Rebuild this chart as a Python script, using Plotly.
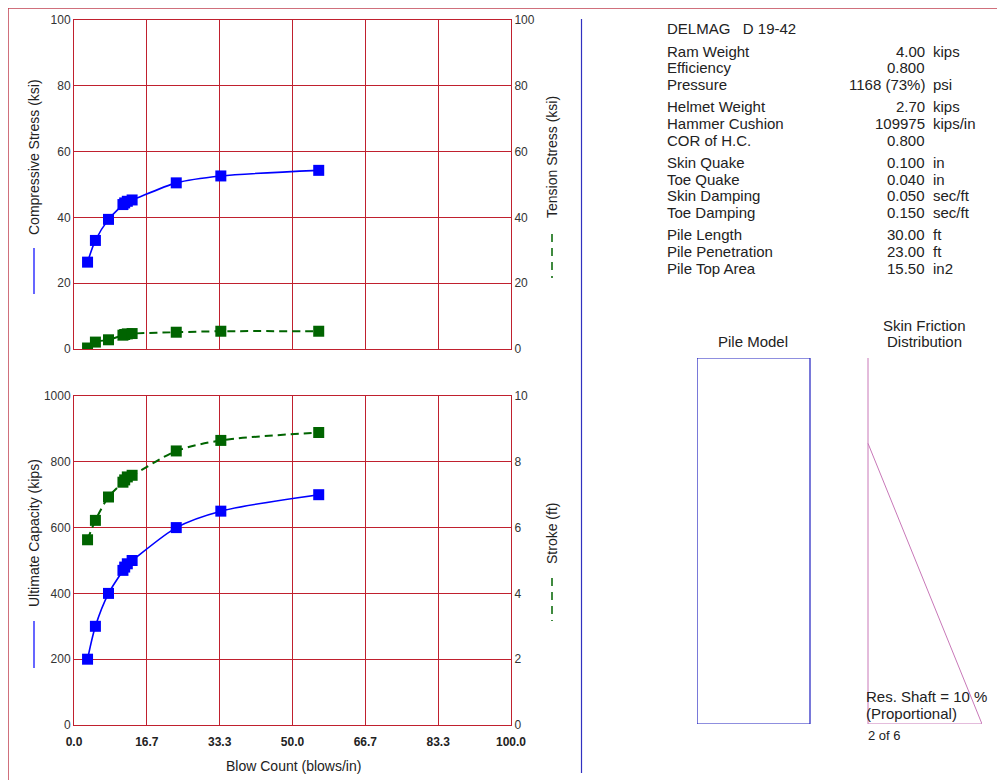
import plotly.graph_objects as go

# ---------------- data ----------------
blow_count = [3.1, 4.9, 7.9, 11.2, 11.6, 12.2, 13.3, 23.4, 33.6, 56.0]
capacity = [200, 300, 400, 470, 480, 490, 500, 600, 650, 700]
stroke = [5.63, 6.22, 6.93, 7.38, 7.45, 7.54, 7.59, 8.33, 8.65, 8.89]
comp_stress = [26.4, 33.0, 39.4, 43.9, 44.4, 44.9, 45.3, 50.5, 52.6, 54.3]
tension_stress = [0.3, 2.1, 2.8, 4.2, 4.4, 4.6, 4.7, 5.1, 5.4, 5.4]

x_tickvals = [0, 16.667, 33.333, 50, 66.667, 83.333, 100]
x_ticktext = ["0.0", "16.7", "33.3", "50.0", "66.7", "83.3", "100.0"]

hammer_name = "DELMAG   D 19-42"
param_groups = [
    [("Ram Weight", "4.00", "kips"), ("Efficiency", "0.800", ""), ("Pressure", "1168 (73%)", "psi")],
    [("Helmet Weight", "2.70", "kips"), ("Hammer Cushion", "109975", "kips/in"), ("COR of H.C.", "0.800", "")],
    [("Skin Quake", "0.100", "in"), ("Toe Quake", "0.040", "in"), ("Skin Damping", "0.050", "sec/ft"),
     ("Toe Damping", "0.150", "sec/ft")],
    [("Pile Length", "30.00", "ft"), ("Pile Penetration", "23.00", "ft"), ("Pile Top Area", "15.50", "in2")],
]
pile_length = 30.0
pile_penetration = 23.0
res_shaft_pct = 10

# ---------------- layout helpers ----------------
W, H = 1005, 780
OFF = 7  # page offset of the figure in the browser
def px(x):
    return (x - OFF) / W
def py(y):
    return 1 - (y - OFF) / H

FONT = "Arial, 'Liberation Sans', sans-serif"
GRID = "#C0202E"
TXT = "#222222"
BLUE = "#0000FF"
GREEN = "#006400"
DASH = "8px,5px"

fig = go.Figure()

# top plot: stresses
fig.add_trace(go.Scatter(x=blow_count, y=comp_stress, mode="lines+markers", xaxis="x", yaxis="y",
                         line=dict(color=BLUE, width=1.6, shape="spline", smoothing=0.8),
                         marker=dict(symbol="square", size=11, color=BLUE), showlegend=False))
fig.add_trace(go.Scatter(x=blow_count, y=tension_stress, mode="lines+markers", xaxis="x", yaxis="y2",
                         line=dict(color=GREEN, width=2, dash=DASH, shape="spline", smoothing=0.8),
                         marker=dict(symbol="square", size=11, color=GREEN), showlegend=False))
# bottom plot: capacity & stroke
fig.add_trace(go.Scatter(x=blow_count, y=capacity, mode="lines+markers", xaxis="x2", yaxis="y3",
                         line=dict(color=BLUE, width=1.6, shape="spline", smoothing=0.8),
                         marker=dict(symbol="square", size=11, color=BLUE), showlegend=False))
fig.add_trace(go.Scatter(x=blow_count, y=stroke, mode="lines+markers", xaxis="x2", yaxis="y4",
                         line=dict(color=GREEN, width=2, dash=DASH, shape="spline", smoothing=0.8),
                         marker=dict(symbol="square", size=11, color=GREEN), showlegend=False))

xdom = [px(73), px(510)]
top_dom = [py(348), py(19)]
bot_dom = [py(724), py(395)]

axis_common = dict(showgrid=True, gridcolor=GRID, gridwidth=1, showline=True, linecolor=GRID,
                   linewidth=1, mirror=True, zeroline=False, ticks="", fixedrange=True, automargin=False,
                   tickfont=dict(family=FONT, size=12, color="#333333"))
no_grid = {k: v for k, v in axis_common.items() if k != "showgrid"}
no_font = {k: v for k, v in axis_common.items() if k != "tickfont"}

fig.update_layout(
    width=W, height=H, margin=dict(l=0, r=0, t=0, b=0, autoexpand=False),
    paper_bgcolor="white", plot_bgcolor="white", showlegend=False,
    font=dict(family=FONT, color=TXT),
    xaxis=dict(domain=xdom, anchor="y", range=[0, 100], tickvals=x_tickvals, showticklabels=False,
               **axis_common),
    yaxis=dict(domain=top_dom, anchor="x", range=[0, 100], dtick=20, ticklabelstandoff=0, **axis_common),
    yaxis2=dict(overlaying="y", side="right", anchor="x", range=[0, 100], dtick=20, showgrid=False,
                ticklabelstandoff=0, **no_grid),
    xaxis2=dict(domain=xdom, anchor="y3", range=[0, 100], tickvals=x_tickvals, ticktext=x_ticktext,
                ticklabelstandoff=6, **no_font,
                tickfont=dict(family=FONT, size=12, color="#222222", weight="bold")),
    yaxis3=dict(domain=bot_dom, anchor="x2", range=[0, 1000], dtick=200, ticklabelstandoff=0, **axis_common),
    yaxis4=dict(overlaying="y3", side="right", anchor="x2", range=[0, 10], dtick=2, showgrid=False,
                ticklabelstandoff=0, **no_grid),
    xaxis3=dict(domain=[px(696), px(981)], anchor="y5", range=[0, 1], visible=False, fixedrange=True,
                automargin=False),
    yaxis5=dict(domain=[py(723), py(357)], anchor="x3", range=[pile_length, 0], visible=False,
                fixedrange=True, automargin=False),
)

ann = []
def text(x, y, t, xanchor="left", size=15, angle=0, yanchor="middle"):
    # compensate the small inner padding plotly adds around annotation text
    if angle == 0:
        if xanchor == "left":
            x -= 3
        elif xanchor == "right":
            x += 2
    ann.append(dict(xref="paper", yref="paper", x=px(x), y=py(y), text=t, showarrow=False,
                    xanchor=xanchor, yanchor=yanchor, textangle=angle,
                    font=dict(family=FONT, size=size, color=TXT)))

shapes = []
def line(x0, y0, x1, y1, color, width=1, dash="solid"):
    shapes.append(dict(type="line", xref="paper", yref="paper", x0=px(x0), y0=py(y0), x1=px(x1),
                       y1=py(y1), line=dict(color=color, width=width, dash=dash)))

# axis titles with line keys
text(33, 156, "Compressive Stress (ksi)", xanchor="center", angle=-90, size=14)
line(33, 247, 33, 293, BLUE, 1.2)
text(551, 156, "Tension Stress (ksi)", xanchor="center", angle=-90, size=14)
line(551, 233, 551, 277, GREEN, 1.5, "8px,6px")
text(33, 532, "Ultimate Capacity (kips)", xanchor="center", angle=-90, size=14)
line(33, 620, 33, 667, BLUE, 1.2)
text(551, 533, "Stroke (ft)", xanchor="center", angle=-90, size=14)
line(551, 577, 551, 620, GREEN, 1.5, "8px,6px")
text(292, 765, "Blow Count (blows/in)", xanchor="center", size=14)

# frame and separator
line(7, 7, 1020, 7, "#C04050", 1.5)
line(7, 7, 7, 800, "#C04050", 1.5)
line(580.5, 18, 580.5, 772, "#3030C0", 1.2)

# parameter panel
text(667, 27, hammer_name)
y = 50
for g in param_groups:
    for lab, val, unit in g:
        text(667, y, lab)
        text(924, y, val, xanchor="right")
        if unit:
            text(933, y, unit)
        y += 16.8
    y += 5.2

# pile model & skin friction distribution
text(752, 340, "Pile Model", xanchor="center")
text(923, 324, "Skin Friction", xanchor="center")
text(923, 340, "Distribution", xanchor="center")

unembedded = pile_length - pile_penetration
shapes.append(dict(type="rect", xref="x3", yref="y5", x0=0, x1=(809 - 696) / 285, y0=0, y1=pile_length,
                   line=dict(color="#2020C0", width=1.2)))
fx0 = (867 - 696) / 285
fig.add_trace(go.Scatter(x=[fx0, fx0, 1.0, fx0], y=[0, pile_length, pile_length, unembedded],
                         xaxis="x3", yaxis="y5", mode="lines", line=dict(color="#C878B8", width=1),
                         showlegend=False, hoverinfo="skip"))
text(866, 695, f"Res. Shaft = {res_shaft_pct} %")
text(866, 712, "(Proportional)")
text(868, 734, "2 of 6", size=13)

fig.update_layout(annotations=ann, shapes=shapes)
fig.write_html("out.html")
